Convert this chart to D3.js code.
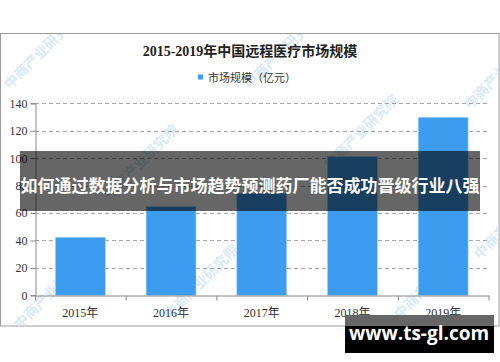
<!DOCTYPE html>
<html>
<head>
<meta charset="utf-8">
<script src="https://cdn.jsdelivr.net/npm/d3@7"></script>
<style>
body { margin: 0; background: #fff; }
svg { display: block; }
</style>
</head>
<body>
<svg id="chart" width="500" height="362"></svg>
<script>
// data
const years = ['2015年', '2016年', '2017年', '2018年', '2019年'];
const market = [42.3, 64.6, 74.4, 101.1, 129.8];
const yTicks = [0, 20, 40, 60, 80, 100, 120, 140];
const title = '2015-2019年中国远程医疗市场规模';
const legendLabel = '市场规模（亿元）';
const banner = '如何通过数据分析与市场趋势预测药厂能否成功晋级行业八强';
const site = 'www.ts-gl.com';

const svg = d3.select('#chart');
const serif = '"Liberation Serif", "DejaVu Serif", "Noto Sans CJK SC", serif';
const sans = '"Noto Sans CJK SC", "Noto Sans", sans-serif';

// frame of the chart picture
svg.append('rect')
  .attr('x', 0.5).attr('y', 33.5)
  .attr('width', 498.5).attr('height', 292.5)
  .attr('fill', '#fff').attr('stroke', '#9a9a9a');

svg.append('clipPath').attr('id', 'frame')
  .append('rect').attr('x', 1).attr('y', 34).attr('width', 497.5).attr('height', 291.5);

// faint watermark, kept inside the frame
const wm = svg.append('g').attr('clip-path', 'url(#frame)')
  .attr('fill', '#d9eaf6').attr('font-family', sans)
  .attr('font-size', 14).attr('font-weight', 'bold');
[[10, 90], [250, 90], [470, 110], [110, 200], [330, 170], [480, 260], [170, 320], [400, 320], [20, 330]].forEach(function(p) {
  wm.append('text')
    .attr('transform', 'translate(' + p[0] + ',' + p[1] + ') rotate(-45)')
    .text('中商产业研究院');
});

svg.append('text')
  .attr('x', 250).attr('y', 56)
  .attr('text-anchor', 'middle')
  .attr('font-family', serif).attr('font-weight', 'bold')
  .attr('font-size', 14).attr('fill', '#222')
  .text(title);

// legend
svg.append('rect').attr('x', 198).attr('y', 74.5).attr('width', 5).attr('height', 5).attr('fill', '#3d9cf0');
svg.append('text')
  .attr('x', 208).attr('y', 81.5)
  .attr('font-family', sans).attr('font-size', 11).attr('fill', '#333')
  .text(legendLabel);

const margin = {left: 35, right: 11.5, top: 103.3, bottom: 66.7};
const W = 500, H = 362;

const x = d3.scaleBand()
  .domain(years)
  .range([margin.left, W - margin.right])
  .paddingInner(0.45)
  .paddingOuter(0.225);

const y = d3.scaleLinear()
  .domain([0, 140])
  .range([H - margin.bottom, margin.top]);

// dashed grid
svg.append('g')
  .selectAll('line')
  .data(yTicks.slice(1))
  .join('line')
  .attr('x1', margin.left).attr('x2', W - margin.right)
  .attr('y1', d => Math.round(y(d)) + 0.5).attr('y2', d => Math.round(y(d)) + 0.5)
  .attr('stroke', '#a8a8a8')
  .attr('stroke-dasharray', '4,3');

svg.append('g')
  .selectAll('rect')
  .data(market)
  .join('rect')
  .attr('x', (d, i) => x(years[i]))
  .attr('width', x.bandwidth())
  .attr('y', d => y(d))
  .attr('height', d => y(0) - y(d))
  .attr('fill', '#3d9cf0')
  .attr('stroke', '#a9d3f7').attr('stroke-width', 0.6);

// y axis
const yAxis = svg.append('g')
  .attr('transform', 'translate(' + (margin.left + 0.5) + ',0)')
  .call(d3.axisLeft(y).tickValues(yTicks).tickSize(5).tickPadding(3));
yAxis.select('.domain').attr('stroke', '#888');
yAxis.selectAll('.tick line').attr('stroke', '#888');
yAxis.selectAll('text').attr('font-family', serif).attr('font-size', 12).attr('fill', '#333');

// x axis
const xAxis = svg.append('g')
  .attr('transform', 'translate(0,' + (Math.round(y(0)) + 0.5) + ')')
  .call(d3.axisBottom(x).tickSize(0).tickPadding(13));
xAxis.select('.domain').attr('stroke', '#888');
xAxis.selectAll('text').attr('font-family', serif).attr('font-size', 12).attr('fill', '#333');
// category separators
const step = x.step();
xAxis.append('g')
  .selectAll('line')
  .data(d3.range(years.length + 1))
  .join('line')
  .attr('x1', i => margin.left + i * step + 0.5)
  .attr('x2', i => margin.left + i * step + 0.5)
  .attr('y1', 0).attr('y2', 5)
  .attr('stroke', '#888');

// banner overlay
svg.append('rect')
  .attr('x', 20).attr('y', 151)
  .attr('width', 460).attr('height', 60)
  .attr('fill', 'rgba(0,0,0,0.6)');
svg.append('text')
  .attr('x', 250).attr('y', 187)
  .attr('text-anchor', 'middle').attr('dominant-baseline', 'middle')
  .attr('font-family', sans).attr('font-weight', 'bold')
  .attr('font-size', 17).attr('fill', '#fff')
  .text(banner);

// site badge
svg.append('rect').attr('x', 345).attr('y', 315).attr('width', 149).attr('height', 12).attr('fill', '#666');
svg.append('rect').attr('x', 345).attr('y', 326).attr('width', 149).attr('height', 27).attr('fill', '#000');
svg.append('text')
  .attr('x', 419).attr('y', 335)
  .attr('text-anchor', 'middle').attr('dominant-baseline', 'middle')
  .attr('font-family', '"Open Sans", "DejaVu Sans", sans-serif').attr('font-weight', 'bold')
  .attr('font-size', 19).attr('fill', '#fff')
  .text(site);
</script>
</body>
</html>
